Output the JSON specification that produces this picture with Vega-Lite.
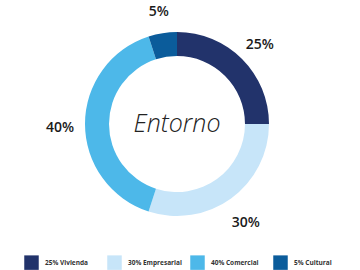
{
  "$schema": "https://vega.github.io/schema/vega-lite/v6.json",
  "autosize": "none",
  "width": 354,
  "height": 248,
  "padding": {"left": 0, "top": 0, "right": 6, "bottom": 22},
  "background": "white",
  "config": {"view": {"stroke": null}},
  "data": {
    "values": [
      {"cat": "25% Vivienda", "value": 25, "label": "25%", "ord": 1},
      {"cat": "30% Empresarial", "value": 30, "label": "30%", "ord": 2},
      {"cat": "40% Comercial", "value": 40, "label": "40%", "ord": 3},
      {"cat": "5% Cultural", "value": 5, "label": "5%", "ord": 4}
    ]
  },
  "encoding": {
    "theta": {"field": "value", "type": "quantitative", "stack": true},
    "order": {"field": "ord", "type": "quantitative"},
    "color": {
      "field": "cat",
      "type": "nominal",
      "sort": ["25% Vivienda", "30% Empresarial", "40% Comercial", "5% Cultural"],
      "scale": {
        "domain": ["25% Vivienda", "30% Empresarial", "40% Comercial", "5% Cultural"],
        "range": ["#22336b", "#c7e5f9", "#4db8e9", "#0b5c9b"]
      },
      "legend": {
        "title": null,
        "orient": "none",
        "legendX": 24,
        "legendY": 255,
        "direction": "horizontal",
        "columns": 4,
        "gridAlign": "all",
        "symbolType": "square",
        "symbolSize": 210,
        "symbolStrokeWidth": 0,
        "labelFont": "Open Sans",
        "labelFontSize": 6.5,
        "labelFontWeight": 700,
        "labelColor": "#333333",
        "labelOffset": 6,
        "columnPadding": 8
      }
    }
  },
  "layer": [
    {
      "mark": {"type": "arc", "innerRadius": 68, "outerRadius": 92}
    },
    {
      "mark": {"type": "text", "radius": 117, "dy": 4, "font": "Open Sans", "fontSize": 14, "fontWeight": 600, "fill": "#1a1a1a"},
      "encoding": {
        "text": {"field": "label", "type": "nominal"},
        "color": {"value": "#1a1a1a"}
      }
    },
    {
      "data": {"values": [{"t": "Entorno"}]},
      "mark": {"type": "text", "font": "Open Sans", "fontSize": 25, "fontStyle": "italic", "fontWeight": 300, "color": "#222222"},
      "encoding": {
        "text": {"field": "t", "type": "nominal"},
        "theta": null,
        "order": null,
        "color": {"value": "#222222"}
      }
    }
  ]
}
